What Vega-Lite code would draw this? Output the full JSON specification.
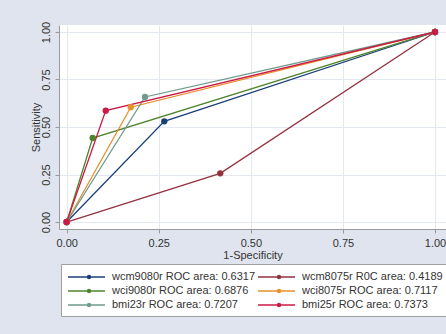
{
  "$schema": "https://vega.github.io/schema/vega-lite/v6.json",
  "width": 387,
  "height": 204,
  "autosize": {"type": "none"},
  "padding": {"left": 59, "top": 25, "right": 0, "bottom": 105},
  "background": "#dfe4ee",
  "config": {
    "font": "Liberation Sans",
    "view": {"fill": "white", "stroke": null},
    "axis": {
      "labelFont": "Liberation Sans",
      "titleFont": "Liberation Sans",
      "labelFontSize": 11,
      "titleFontSize": 11,
      "titleFontWeight": "normal",
      "labelColor": "#333333",
      "titleColor": "#333333",
      "domainColor": "#9a9a9a",
      "tickColor": "#9a9a9a",
      "tickSize": 4,
      "gridColor": "#e4e8f0",
      "gridWidth": 1
    }
  },
  "data": {
    "values": [
      {"series": "wcm9080r ROC area: 0.6317", "order": 0, "fpr": 0, "tpr": 0},
      {"series": "wcm9080r ROC area: 0.6317", "order": 1, "fpr": 0.265, "tpr": 0.53},
      {"series": "wcm9080r ROC area: 0.6317", "order": 2, "fpr": 1, "tpr": 1},
      {"series": "wcm8075r R0C area: 0.4189", "order": 0, "fpr": 0, "tpr": 0},
      {"series": "wcm8075r R0C area: 0.4189", "order": 1, "fpr": 0.417, "tpr": 0.256},
      {"series": "wcm8075r R0C area: 0.4189", "order": 2, "fpr": 1, "tpr": 1},
      {"series": "wci9080r ROC area: 0.6876", "order": 0, "fpr": 0, "tpr": 0},
      {"series": "wci9080r ROC area: 0.6876", "order": 1, "fpr": 0.0705, "tpr": 0.442},
      {"series": "wci9080r ROC area: 0.6876", "order": 2, "fpr": 1, "tpr": 1},
      {"series": "wci8075r ROC area: 0.7117", "order": 0, "fpr": 0, "tpr": 0},
      {"series": "wci8075r ROC area: 0.7117", "order": 1, "fpr": 0.174, "tpr": 0.604},
      {"series": "wci8075r ROC area: 0.7117", "order": 2, "fpr": 1, "tpr": 1},
      {"series": "bmi23r ROC area: 0.7207", "order": 0, "fpr": 0, "tpr": 0},
      {"series": "bmi23r ROC area: 0.7207", "order": 1, "fpr": 0.2126, "tpr": 0.658},
      {"series": "bmi23r ROC area: 0.7207", "order": 2, "fpr": 1, "tpr": 1},
      {"series": "bmi25r ROC area: 0.7373", "order": 0, "fpr": 0, "tpr": 0},
      {"series": "bmi25r ROC area: 0.7373", "order": 1, "fpr": 0.106, "tpr": 0.586},
      {"series": "bmi25r ROC area: 0.7373", "order": 2, "fpr": 1, "tpr": 1}
    ]
  },
  "mark": {"type": "line", "strokeWidth": 1.3, "clip": false, "point": {"filled": true, "size": 40, "opacity": 1}},
  "encoding": {
    "x": {
      "field": "fpr", "type": "quantitative", "title": "1-Specificity",
      "scale": {"domain": [-0.0209, 1.0299], "nice": false, "zero": false},
      "axis": {"values": [0, 0.25, 0.5, 0.75, 1], "format": ".2f", "labelPadding": 4, "titlePadding": 1, "labelFlush": false}
    },
    "y": {
      "field": "tpr", "type": "quantitative", "title": "Sensitivity",
      "scale": {"domain": [-0.0368, 1.0368], "nice": false, "zero": false},
      "axis": {"values": [0, 0.25, 0.5, 0.75, 1], "format": ".2f", "labelAngle": 270, "labelAlign": "center", "labelBaseline": "bottom", "labelPadding": 4, "titlePadding": -1, "labelFlush": false}
    },
    "order": {"field": "order", "type": "quantitative"},
    "color": {
      "field": "series", "type": "nominal", "title": null,
      "scale": {
        "domain": ["wcm9080r ROC area: 0.6317", "wcm8075r R0C area: 0.4189", "wci9080r ROC area: 0.6876", "wci8075r ROC area: 0.7117", "bmi23r ROC area: 0.7207", "bmi25r ROC area: 0.7373"],
        "range": ["#1a3f78", "#94323f", "#4f842c", "#e8902c", "#6f9a8c", "#cc1a44"]
      },
      "legend": {
        "orient": "none", "legendX": 2, "legendY": 239,
        "direction": "horizontal", "columns": 2,
        "fillColor": "white", "strokeColor": "#a0a0a0", "padding": 6,
        "symbolType": "M-1,0H5.17M2.27,0a0.23,0.23 0 1,0 0.46,0a0.23,0.23 0 1,0 -0.46,0M2.4,0a0.1,0.1 0 1,0 0.2,0a0.1,0.1 0 1,0 -0.2,0",
        "symbolSize": 144, "symbolStrokeWidth": 1.6,
        "labelFont": "Liberation Sans", "labelFontSize": 11, "labelColor": "#333333",
        "labelOffset": 31, "columnPadding": -2, "rowPadding": 2,
        "symbolOpacity": 1
      }
    }
  }
}
